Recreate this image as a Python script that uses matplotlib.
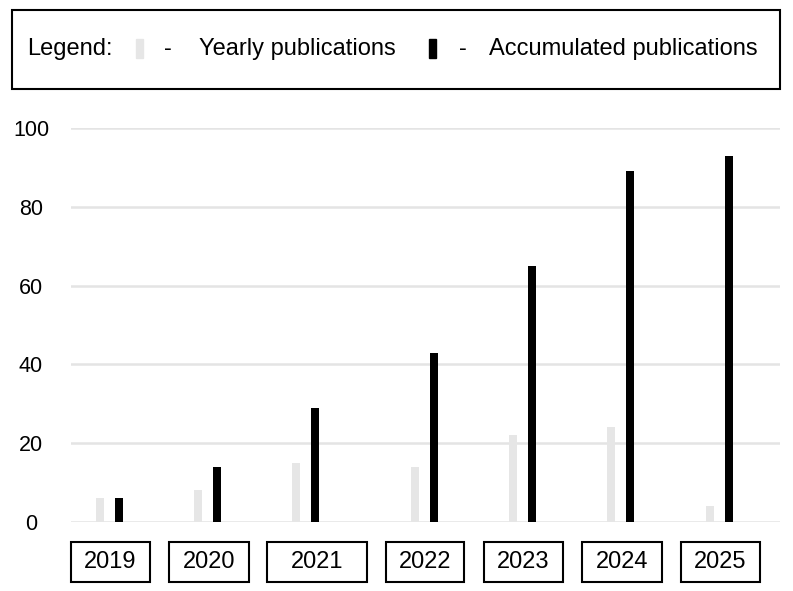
import matplotlib.pyplot as plt
from matplotlib.patches import Rectangle
from matplotlib.transforms import blended_transform_factory

years = ['2019', '2020', '2021', '2022', '2023', '2024', '2025']
yearly = [6, 8, 15, 14, 22, 24, 4]
accumulated = [6, 14, 29, 43, 65, 89, 93]
yticks = [0, 20, 40, 60, 80, 100]

# layout of the category boxes (pixels from the axes' left edge)
box_left = [0, 98, 196, 315, 413, 511, 610]
box_width = [79, 80, 100, 78, 79, 80, 79]

plt.rcParams['font.family'] = ['Liberation Sans', 'DejaVu Sans']

W, H = 793, 591
fig = plt.figure(figsize=(W / 100, H / 100), dpi=100)
ax = fig.add_axes([71 / W, (H - 522) / H, 709 / W, 394 / H])

light = '#e6e6e6'
ax.bar([l + 29 for l in box_left], yearly, width=8, color=light, zorder=2)
ax.bar([l + 48 for l in box_left], accumulated, width=8, color='black', zorder=2)

ax.set_xlim(0, 709)
ax.set_ylim(0, 100)
ax.set_yticks(yticks)
ax.set_xticks([])
ax.yaxis.grid(True, color='#e4e4e4', linewidth=1.8, zorder=0)
ax.set_axisbelow(True)
for s in ax.spines.values():
    s.set_visible(False)
ax.tick_params(axis='y', length=0, pad=28.8, labelsize=15.5)
for lab in ax.get_yticklabels():
    lab.set_horizontalalignment('center')

# year boxes below the axis
tr = blended_transform_factory(ax.transData, fig.transFigure)
for y, l, w in zip(years, box_left, box_width):
    ax.add_patch(Rectangle((l, 1 - 582 / H), w, 40 / H, transform=tr,
                           fill=False, edgecolor='black', linewidth=1.5,
                           clip_on=False))
    ax.text(l + w / 2, 1 - 562 / H, y, transform=tr, ha='center', va='center',
            fontsize=17)

# legend box at the top
fig.patches.append(Rectangle((12 / W, 1 - 89 / H), 768 / W, 79 / H,
                             transform=fig.transFigure, fill=False,
                             edgecolor='black', linewidth=1.5))
ly = 1 - 49 / H
fs = 17
fig.text(27 / W, ly, 'Legend:', ha='left', va='center', fontsize=fs)
fig.patches.append(Rectangle((136 / W, 1 - 58 / H), 7 / W, 19 / H,
                             transform=fig.transFigure, color=light))
fig.text(168 / W, ly, '-', ha='center', va='center', fontsize=fs)
fig.text(199 / W, ly, 'Yearly publications', ha='left', va='center', fontsize=fs)
fig.patches.append(Rectangle((429 / W, 1 - 58 / H), 7 / W, 19 / H,
                             transform=fig.transFigure, color='black'))
fig.text(463 / W, ly, '-', ha='center', va='center', fontsize=fs)
fig.text(489 / W, ly, 'Accumulated publications', ha='left', va='center', fontsize=fs)

fig.savefig('out.png', dpi=100)
